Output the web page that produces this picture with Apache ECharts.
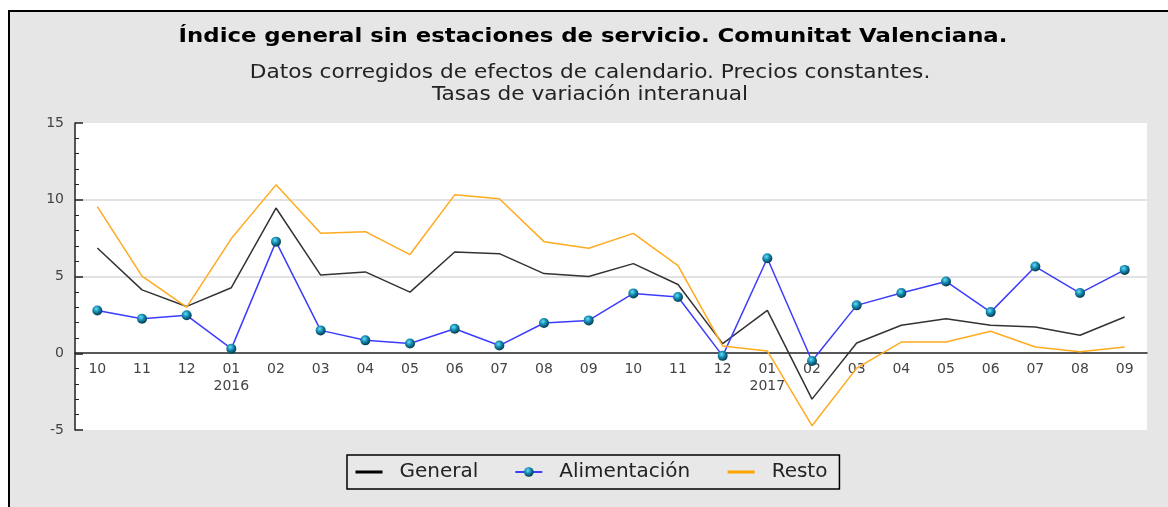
<!DOCTYPE html>
<html>
<head>
<meta charset="utf-8">
<script src="https://cdn.jsdelivr.net/npm/echarts@6/dist/echarts.min.js"></script>
<style>
  html, body { margin: 0; padding: 0; background: #fff; }
  #chart { width: 1168px; height: 507px; }
</style>
</head>
<body>
<div id="chart"></div>
<script>
// meses: oct 2015 - sep 2017
const categories = ['10', '11', '12', '01\n2016', '02', '03', '04', '05', '06', '07', '08', '09',
  '10', '11', '12', '01\n2017', '02', '03', '04', '05', '06', '07', '08', '09'];
const general = [6.86, 4.13, 3.05, 4.27, 9.46, 5.09, 5.3, 3.98, 6.6, 6.49, 5.19, 5.0,
  5.84, 4.48, 0.63, 2.79, -2.99, 0.67, 1.82, 2.25, 1.82, 1.71, 1.17, 2.36];
const alimentacion = [2.79, 2.25, 2.47, 0.3, 7.27, 1.49, 0.84, 0.63, 1.6, 0.5, 1.97, 2.14,
  3.9, 3.66, -0.17, 6.19, -0.5, 3.12, 3.92, 4.68, 2.68, 5.65, 3.92, 5.43];
const resto = [9.55, 5.02, 3.0, 7.47, 10.97, 7.81, 7.92, 6.43, 10.32, 10.06, 7.27, 6.84,
  7.81, 5.71, 0.48, 0.15, -4.72, -0.97, 0.73, 0.73, 1.43, 0.41, 0.09, 0.41];
const yTicks = [-5, 0, 5, 10, 15];

const FONT = '"DejaVu Sans", Verdana, sans-serif';

const chart = echarts.init(document.getElementById('chart'));

// esfera de los marcadores
const sphere = new echarts.graphic.RadialGradient(0.4, 0.35, 0.65, [
  { offset: 0, color: '#6fdcf5' },
  { offset: 0.45, color: '#1690b8' },
  { offset: 1, color: '#06384c' }
]);

chart.setOption({
  backgroundColor: '#fff',
  animation: false,
  graphic: [
    {
      type: 'rect', z: -100, silent: true,
      shape: { x: 9, y: 11, width: 1300, height: 600 },
      style: { fill: '#e6e6e6', stroke: '#000', lineWidth: 2 }
    },
    {
      type: 'text', x: 593, y: 37, scaleX: 1.14,
      style: {
        x: 0, y: 0,
        text: 'Índice general sin estaciones de servicio. Comunitat Valenciana.',
        font: 'bold 20px ' + FONT, fill: '#000',
        textAlign: 'center', textVerticalAlign: 'middle'
      }
    },
    {
      type: 'text', x: 590, y: 73, scaleX: 1.14,
      style: {
        x: 0, y: 0,
        text: 'Datos corregidos de efectos de calendario. Precios constantes.',
        font: '19px ' + FONT, fill: '#222',
        textAlign: 'center', textVerticalAlign: 'middle'
      }
    },
    {
      type: 'text', x: 590, y: 95, scaleX: 1.14,
      style: {
        x: 0, y: 0,
        text: 'Tasas de variación interanual',
        font: '19px ' + FONT, fill: '#222',
        textAlign: 'center', textVerticalAlign: 'middle'
      }
    }
  ],
  grid: {
    left: 75, right: 21, top: 123, bottom: 77,
    show: true, backgroundColor: '#fff', borderWidth: 0
  },
  legend: {
    left: 347, top: 455,
    itemWidth: 27, itemHeight: 12, itemGap: 36,
    padding: [7, 12, 7, 7],
    borderColor: '#000', borderWidth: 1.5,
    backgroundColor: '#e8e8e8',
    textStyle: { fontFamily: FONT, fontSize: 20, color: '#222', padding: [0, 0, 0, 12] },
    data: [
      { name: 'General', itemStyle: { opacity: 0 }, lineStyle: { width: 3, color: '#000' } },
      { name: 'Alimentación', lineStyle: { width: 2 } },
      { name: 'Resto', itemStyle: { opacity: 0 }, lineStyle: { width: 3, color: '#ffa500' } }
    ]
  },
  xAxis: {
    type: 'category',
    data: categories,
    boundaryGap: true,
    offset: -77,
    axisLine: { onZero: false, lineStyle: { color: '#222', width: 1.5 } },
    axisTick: { alignWithLabel: true, inside: true, length: 8, lineStyle: { color: '#222', width: 1.5 } },
    axisLabel: { interval: 0, margin: 8, fontFamily: FONT, fontSize: 14, color: '#444', lineHeight: 17 },
    splitLine: { show: false }
  },
  yAxis: {
    type: 'value',
    min: yTicks[0], max: yTicks[yTicks.length - 1], interval: 5,
    axisLine: { show: true, onZero: false, lineStyle: { color: '#222', width: 1.5 } },
    axisTick: { show: true, inside: true, length: 8, lineStyle: { color: '#222', width: 1.5 } },
    minorTick: { show: true, splitNumber: 5, length: 4, lineStyle: { color: '#222', width: 1 } },
    axisLabel: { margin: 11, fontFamily: FONT, fontSize: 14, color: '#444' },
    splitLine: {
      show: true,
      lineStyle: { color: ['rgba(0,0,0,0)', 'rgba(0,0,0,0)', '#d8d8d8', '#d8d8d8', 'rgba(0,0,0,0)'], width: 1.5 }
    }
  },
  series: [
    {
      name: 'General', type: 'line', data: general,
      symbol: 'none', showSymbol: false,
      lineStyle: { color: '#333', width: 1.5 }, itemStyle: { color: '#111' }
    },
    {
      name: 'Alimentación', type: 'line', data: alimentacion,
      symbol: 'circle', symbolSize: 10, showSymbol: true,
      lineStyle: { color: '#3c3cff', width: 1.5 },
      itemStyle: { color: sphere, borderWidth: 0 }
    },
    {
      name: 'Resto', type: 'line', data: resto,
      symbol: 'none', showSymbol: false,
      lineStyle: { color: '#ffab1f', width: 1.5 }, itemStyle: { color: '#ffa500' }
    }
  ]
});
</script>
</body>
</html>
